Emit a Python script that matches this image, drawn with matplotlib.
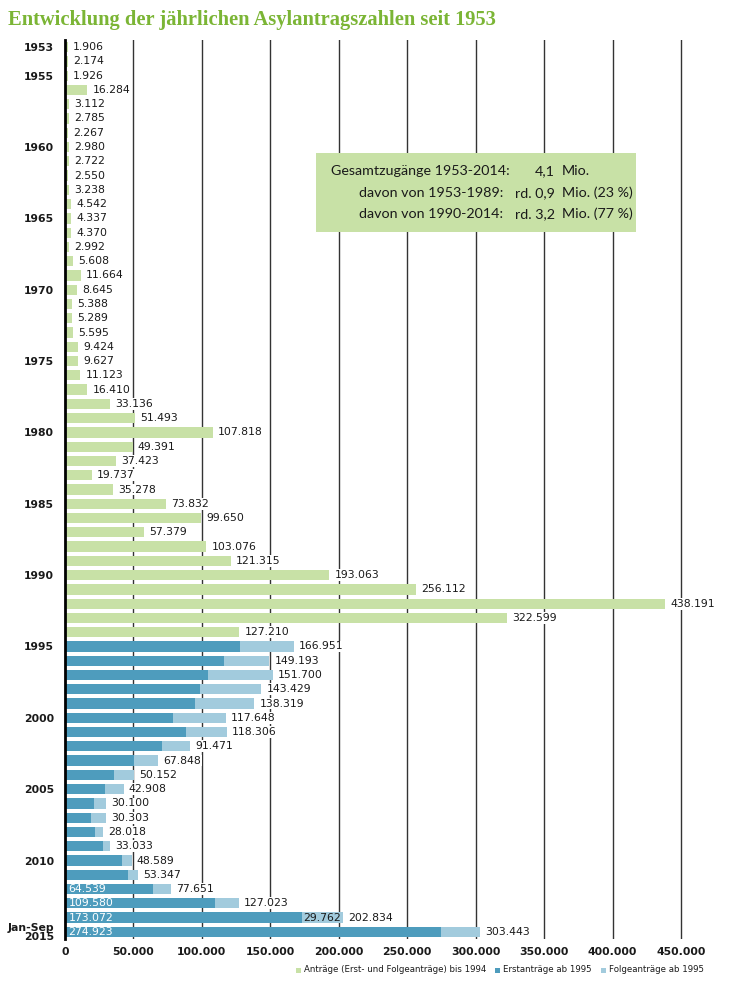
import matplotlib
matplotlib.use("Agg")
import matplotlib.pyplot as plt
from matplotlib.patches import Rectangle
import numpy as np

# ---------------- data ----------------
years_old = list(range(1953, 1995))
totals_old = [1906, 2174, 1926, 16284, 3112, 2785, 2267, 2980, 2722, 2550,
              3238, 4542, 4337, 4370, 2992, 5608, 11664, 8645, 5388, 5289,
              5595, 9424, 9627, 11123, 16410, 33136, 51493, 107818, 49391, 37423,
              19737, 35278, 73832, 99650, 57379, 103076, 121315, 193063, 256112, 438191,
              322599, 127210]
years_new = list(range(1995, 2016))
erst = [127937, 116367, 104353, 98644, 95113, 78564, 88287, 71127, 50563, 35607,
        28914, 21029, 19164, 22085, 27649, 41332, 45741, 64539, 109580, 173072, 274923]
folge = [39014, 32826, 47347, 44785, 43206, 39084, 30019, 20344, 17285, 14545,
         13994, 9071, 11139, 5933, 5384, 7257, 7606, 13112, 17443, 29762, 28520]
inner_label_years = [2012, 2013, 2014, 2015]
folge_label_years = [2014]
ytick_years = [1953, 1955, 1960, 1965, 1970, 1975, 1980, 1985, 1990, 1995, 2000, 2005, 2010, 2015]
ytick_texts = ["1953", "1955", "1960", "1965", "1970", "1975", "1980", "1985", "1990",
               "1995", "2000", "2005", "2010", "Jan-Sep\n2015"]
xticks = [0, 50000, 100000, 150000, 200000, 250000, 300000, 350000, 400000, 450000]

title = "Entwicklung der jährlichen Asylantragszahlen seit 1953"
box_lines = [("Gesamtzugänge 1953-2014:", "4,1", "Mio.", ""),
             ("davon von 1953-1989:", "rd. 0,9", "Mio.", "(23 %)"),
             ("davon von 1990-2014:", "rd. 3,2", "Mio.", "(77 %)")]
legend_labels = ["Anträge (Erst- und Folgeanträge) bis 1994", "Erstanträge ab 1995", "Folgeanträge ab 1995"]

GREEN = "#c8e1a6"
BLUE = "#4e9cbd"
LBLUE = "#a2cbdd"
TITLE_GREEN = "#7bb535"

def fmt(v):
    return f"{v:,}".replace(",", ".")

W, H = 735, 989
fig = plt.figure(figsize=(W / 100, H / 100), dpi=100)
plt.rcParams['font.family'] = ['DejaVu Sans']

ax_left, ax_right = 65, 722
ax_top, ax_bot = 40, 939
ax = fig.add_axes([ax_left / W, 1 - ax_bot / H, (ax_right - ax_left) / W, (ax_bot - ax_top) / H])

all_years = years_old + years_new
ypos = {y: i for i, y in enumerate(all_years)}
bh = 0.72

# gridlines
for xv in xticks[1:]:
    ax.axvline(xv, color="#333333", lw=1.0, zorder=0)

yo = [ypos[y] for y in years_old]
ax.barh(yo, totals_old, height=bh, color=GREEN, zorder=2)
yn = [ypos[y] for y in years_new]
ax.barh(yn, erst, height=bh, color=BLUE, zorder=2)
ax.barh(yn, folge, left=erst, height=bh, color=LBLUE, zorder=2)

LFS = 7.8
lab_kw = dict(fontsize=LFS, color="#1a1a1a", va="center", ha="left", zorder=4,
              bbox=dict(facecolor="white", edgecolor="none", pad=0.6))
for y, v in zip(years_old, totals_old):
    ax.text(v + 3800, ypos[y], fmt(v), **lab_kw)
for y, e, f in zip(years_new, erst, folge):
    t = e + f
    ax.text(t + 3800, ypos[y], fmt(t), **lab_kw)
    if y in inner_label_years:
        ax.text(2500, ypos[y], fmt(e), fontsize=LFS, color="white", va="center", ha="left", zorder=5)
    if y in folge_label_years:
        ax.text(e + 1200, ypos[y], fmt(f), fontsize=LFS, color="#1a1a1a", va="center", ha="left", zorder=5)

ax.set_xlim(0, 480000)
ax.set_ylim(len(all_years) - 0.5, -0.5)
ax.set_xticks(xticks)
ax.set_xticklabels([fmt(x) for x in xticks], fontsize=7.8, fontweight="bold", color="#1a1a1a")
ax.set_yticks([ypos[y] for y in ytick_years])
ax.set_yticklabels(ytick_texts, fontsize=7.8, fontweight="bold", color="#1a1a1a", linespacing=0.95)
ax.tick_params(axis="both", length=0, pad=6)
ax.tick_params(axis="y", pad=8)
for s in ["top", "right", "bottom"]:
    ax.spines[s].set_visible(False)
ax.spines["left"].set_linewidth(2.0)
ax.spines["left"].set_color("black")
ax.spines["left"].set_zorder(6)

# title
fig.text(8 / W, 1 - 20 / H, title, fontsize=14.8, fontweight="bold", color=TITLE_GREEN,
         family="Liberation Serif", va="center", ha="left")

# summary box
bx0, bx1, by0, by1 = 316, 636, 153, 232
fig.patches.append(Rectangle((bx0 / W, 1 - by1 / H), (bx1 - bx0) / W, (by1 - by0) / H,
                             transform=fig.transFigure, facecolor=GREEN, edgecolor="none", zorder=3))
line_y = [171, 193, 214]
BFS = 10.3
for i, ((a, b, c, d), yy) in enumerate(zip(box_lines, line_y)):
    ax_r = 510 if i == 0 else 503
    fig.text(ax_r / W, 1 - yy / H, a, fontsize=BFS, color="#1a1a1a", ha="right", va="center",
             zorder=4, family="Lato")
    fig.text(555 / W, 1 - yy / H, b, fontsize=BFS, color="#1a1a1a", ha="right", va="center",
             zorder=4, family="Lato")
    fig.text(562 / W, 1 - yy / H, c + (" " + d if d else ""), fontsize=BFS, color="#1a1a1a",
             ha="left", va="center", zorder=4, family="Lato")

# legend
leg_y = 970
leg_items = [(296, GREEN, legend_labels[0]), (495, BLUE, legend_labels[1]), (601, LBLUE, legend_labels[2])]
for lx, col, txt in leg_items:
    fig.patches.append(Rectangle((lx / W, 1 - (leg_y + 3) / H), 5 / W, 5 / H,
                                 transform=fig.transFigure, facecolor=col, edgecolor="none"))
    fig.text((lx + 8) / W, 1 - leg_y / H, txt, fontsize=6.2, color="#1a1a1a", ha="left", va="center")

fig.savefig("out.png", dpi=100, facecolor="white")
